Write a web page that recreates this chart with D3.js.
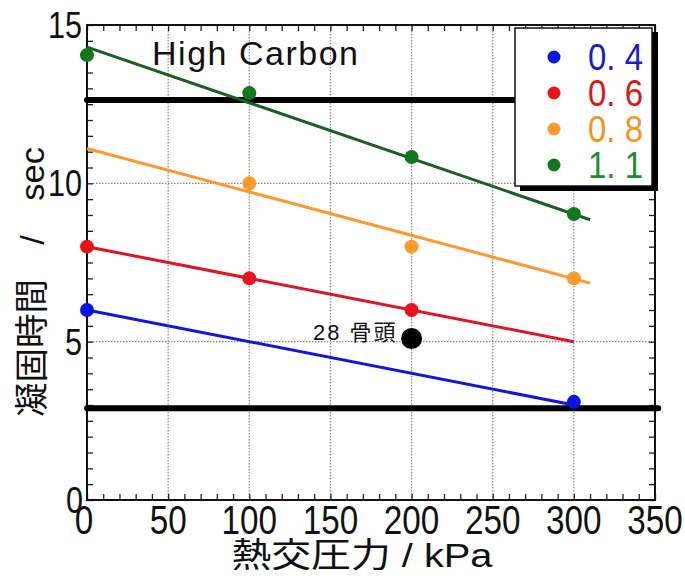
<!DOCTYPE html>
<html>
<head>
<meta charset="utf-8">
<script src="https://cdn.jsdelivr.net/npm/d3@7"></script>
<style>
  body { margin: 0; background: #fff; }
  text { font-family: "Liberation Sans", "Noto Sans CJK JP", sans-serif; }
</style>
</head>
<body>
<div id="viz"></div>
<script>
// data
var pressure = [0, 100, 200, 300];
var seriesNames = ['0.4', '0.6', '0.8', '1.1'];
var legendLabels = ['0. 4', '0. 6', '0. 8', '1. 1'];
var colors = ['#0a14e0', '#e6141c', '#ff9a2a', '#12781e'];
var lineColors = ['#1414e0', '#e01422', '#ff982e', '#1a5e24'];
var textColors = ['#1a1ad0', '#d81818', '#f0961e', '#1e8c32'];

// measured points (null = no marker)
var s04 = [6.0, null, null, 3.1];
var s06 = [8.0, 7.0, 6.0, null];
var s08 = [null, 10.0, 8.0, 7.0];
var s11 = [14.05, 12.85, 10.83, 9.03];

// fitted lines: [x start, y start, x end, y end]
var fit04 = [0, 6.0, 300, 3.0];
var fit06 = [0, 8.0, 300, 5.0];
var fit08 = [0, 11.1, 310, 6.85];
var fit11 = [0, 14.3, 310, 8.85];

// limit lines (sec) and where they stop (kPa)
var limits = [12.63, 2.9];
var limitEnds = [265, 352];

// the black point
var specimen = {x: 200, y: 5.1, label: '28 骨頭'};

var xTicks = [0, 50, 100, 150, 200, 250, 300, 350];
var yTicks = [0, 5, 10, 15];

var W = 685, H = 578;
var mLeft = 87, mRight = 655, mTop = 25, mBottom = 500;

var svg = d3.select('#viz').append('svg')
  .attr('width', W)
  .attr('height', H);

var x = d3.scaleLinear().domain([0, 350]).range([mLeft, mRight]);
var y = d3.scaleLinear().domain([0, 15]).range([mBottom, mTop]);

// grid
var grid = svg.append('g').attr('class', 'grid');
grid.selectAll('.vgrid')
  .data([50, 100, 150, 200, 250, 300])
  .enter().append('line')
  .attr('x1', d => x(d)).attr('x2', d => x(d))
  .attr('y1', mTop).attr('y2', mBottom)
  .attr('stroke', '#8a8a8a').attr('stroke-width', 1.2)
  .attr('stroke-dasharray', '1.5,1.5');
grid.selectAll('.hgrid')
  .data([5, 10])
  .enter().append('line')
  .attr('x1', mLeft).attr('x2', mRight)
  .attr('y1', d => y(d)).attr('y2', d => y(d))
  .attr('stroke', '#8a8a8a').attr('stroke-width', 1.2)
  .attr('stroke-dasharray', '1.5,1.5');

// minor ticks, inward on all four sides
var tick = 6;
svg.append('g')
  .attr('transform', 'translate(0,' + mBottom + ')')
  .call(d3.axisBottom(x).tickValues(d3.range(0, 351, 10)).tickSize(-tick).tickFormat(''));
svg.append('g')
  .attr('transform', 'translate(0,' + mTop + ')')
  .call(d3.axisTop(x).tickValues(d3.range(0, 351, 10)).tickSize(-tick).tickFormat(''));
svg.append('g')
  .attr('transform', 'translate(' + mLeft + ',0)')
  .call(d3.axisLeft(y).tickValues(d3.range(0, 15.01, 0.5)).tickSize(-tick).tickFormat(''));
svg.append('g')
  .attr('transform', 'translate(' + mRight + ',0)')
  .call(d3.axisRight(y).tickValues(d3.range(0, 15.01, 0.5)).tickSize(-tick).tickFormat(''));
svg.selectAll('.domain').remove();
svg.selectAll('.tick line').attr('stroke', '#222').attr('stroke-width', 1.3);

// frame
svg.append('rect')
  .attr('x', mLeft).attr('y', mTop)
  .attr('width', mRight - mLeft).attr('height', mBottom - mTop)
  .attr('fill', 'none').attr('stroke', '#111').attr('stroke-width', 2);

// tick labels (narrow look via textLength)
svg.selectAll('.xlab')
  .data(xTicks)
  .enter().append('text')
  .attr('x', d => x(d) - (d === 0 ? 3 : 0))
  .attr('y', mBottom + 34)
  .attr('text-anchor', 'middle')
  .attr('font-size', 40)
  .attr('textLength', d => String(d).length * 18.5)
  .attr('lengthAdjust', 'spacingAndGlyphs')
  .attr('fill', '#111')
  .text(d => d);
svg.selectAll('.ylab')
  .data(yTicks)
  .enter().append('text')
  .attr('x', d => d === 0 ? mLeft - 4 : mLeft - 5)
  .attr('y', d => y(d) + 13)
  .attr('text-anchor', 'end')
  .attr('font-size', 37)
  .attr('textLength', d => String(d).length * 17)
  .attr('lengthAdjust', 'spacingAndGlyphs')
  .attr('fill', '#111')
  .text(d => d);

// axis titles
svg.append('text')
  .attr('x', 362).attr('y', 567)
  .attr('text-anchor', 'middle')
  .attr('font-size', 34)
  .attr('textLength', 261)
  .attr('lengthAdjust', 'spacingAndGlyphs')
  .attr('fill', '#111')
  .text('熱交圧力 / kPa');
svg.append('text')
  .attr('transform', 'translate(44,282) rotate(-90)')
  .attr('text-anchor', 'middle')
  .attr('font-size', 34)
  .attr('textLength', 270)
  .attr('lengthAdjust', 'spacingAndGlyphs')
  .attr('fill', '#111')
  .text('凝固時間　/　sec');

// limit lines
svg.selectAll('.limit')
  .data(limits)
  .enter().append('line')
  .attr('x1', x(0)).attr('x2', (d, i) => x(limitEnds[i]))
  .attr('y1', d => y(d)).attr('y2', d => y(d))
  .attr('stroke', '#000').attr('stroke-width', 6)
  .attr('stroke-linecap', 'round');

// fit lines
var fits = [fit04, fit06, fit08, fit11];
svg.selectAll('.fit')
  .data(fits)
  .enter().append('line')
  .attr('x1', d => x(d[0])).attr('y1', d => y(d[1]))
  .attr('x2', d => x(d[2])).attr('y2', d => y(d[3]))
  .attr('stroke', (d, i) => lineColors[i])
  .attr('stroke-width', 3);

// markers
var all = [s04, s06, s08, s11];
all.forEach(function (vals, i) {
  var pts = pressure.map((p, j) => ({x: p, y: vals[j]})).filter(d => d.y !== null);
  svg.selectAll('.pt' + i)
    .data(pts)
    .enter().append('circle')
    .attr('cx', d => x(d.x)).attr('cy', d => y(d.y))
    .attr('r', 7)
    .attr('fill', colors[i]);
});

// specimen point
svg.append('circle')
  .attr('cx', x(specimen.x)).attr('cy', y(specimen.y))
  .attr('r', 10.5).attr('fill', '#000');
svg.append('text')
  .attr('x', x(specimen.x) - 14).attr('y', y(specimen.y) + 1)
  .attr('text-anchor', 'end')
  .attr('font-size', 22)
  .attr('letter-spacing', 2)
  .attr('fill', '#111')
  .attr('font-family', '"Noto Sans CJK JP", sans-serif')
  .text(specimen.label);

// title inside plot
svg.append('text')
  .attr('x', 152).attr('y', 65)
  .attr('font-size', 34)
  .attr('textLength', 206)
  .attr('lengthAdjust', 'spacing')
  .attr('fill', '#111')
  .text('High Carbon');

// legend
var lg = svg.append('g').attr('transform', 'translate(515,28)');
lg.append('rect')
  .attr('x', 5).attr('y', 4).attr('width', 138).attr('height', 159)
  .attr('fill', '#000');
lg.append('rect')
  .attr('x', 0).attr('y', 0).attr('width', 137).attr('height', 158)
  .attr('fill', '#fff').attr('stroke', '#111').attr('stroke-width', 1.5);
var items = lg.selectAll('.item')
  .data(seriesNames)
  .enter().append('g')
  .attr('transform', (d, i) => 'translate(0,' + (29 + i * 36) + ')');
items.append('circle')
  .attr('cx', 39).attr('cy', 0).attr('r', 6.5)
  .attr('fill', (d, i) => colors[i]);
items.append('text')
  .attr('x', 73).attr('y', 13)
  .attr('font-size', 36)
  .attr('textLength', 55)
  .attr('lengthAdjust', 'spacingAndGlyphs')
  .attr('fill', (d, i) => textColors[i])
  .text((d, i) => legendLabels[i]);
</script>
</body>
</html>
